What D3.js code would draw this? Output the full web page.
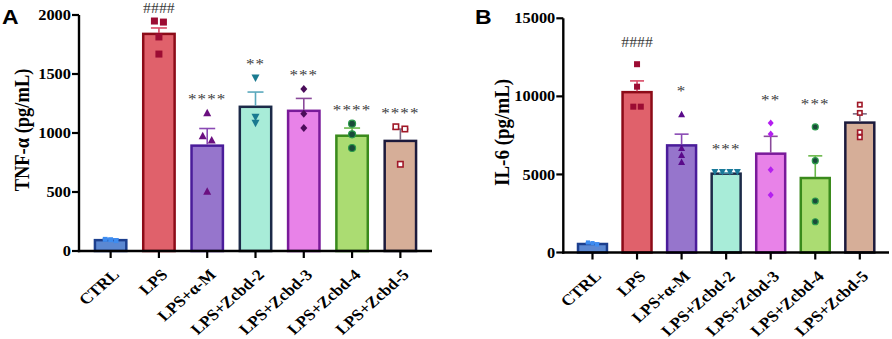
<!DOCTYPE html>
<html><head><meta charset="utf-8">
<script src="https://cdn.jsdelivr.net/npm/d3@7/dist/d3.min.js"></script>
<style>body{margin:0;background:#fff;} svg{display:block;}</style>
</head><body>
<svg id="chart" width="892" height="339"></svg>
<script>
const categories = ["CTRL","LPS","LPS+α-M","LPS+Zcbd-2","LPS+Zcbd-3","LPS+Zcbd-4","LPS+Zcbd-5"];

// Panel A: TNF-α
const tnfMeans = [92, 1840, 893, 1222, 1188, 977, 933];
const tnfSem   = [10, 50, 145, 125, 105, 65, 100];
const tnfPoints = [
  [88, 99, 96],
  [1940, 1949, 1814, 1669],
  [1172, 977, 941, 506],
  [1466, 1133, 1082],
  [1373, 1164, 1042],
  [1079, 989, 873],
  [1053, 1034, 735]
];
const tnfSig = ["", "####", "****", "**", "***", "****", "****"];
const tnfTicks = [0, 500, 1000, 1500, 2000];

// Panel B: IL-6
const il6Means = [545, 10270, 6860, 5050, 6330, 4770, 8320];
const il6Sem   = [60, 720, 720, 50, 1110, 1420, 560];
const il6Points = [
  [520, 640, 600],
  [12060, 10620, 9340, 9340],
  [8850, 6690, 6250, 5800],
  [5150, 5150, 5150, 5150],
  [8300, 7590, 5300, 3680],
  [8040, 5880, 3300, 1970],
  [9470, 8940, 7700, 7380]
];
const il6Sig = ["", "####", "*", "***", "**", "***", ""];
const il6Ticks = [0, 5000, 10000, 15000];

const fills   = ["#5b88d2", "#e0616b", "#9675cc", "#a8ecd8", "#e882e8", "#abdc72", "#d6ae98"];
const strokes = ["#1c3f8e", "#8c0b18", "#4a1c9a", "#1c2a48", "#7a1a9a", "#3a8a1c", "#1c1a3c"];
const errCols = ["#3d7be0", "#d84a66", "#8a4ab4", "#5aa8bc", "#8a4a9a", "#6ab84a", "#7a6a84"];
const shapes  = ["square", "square", "triangle", "triangleDown", "diamond", "circle", "openSquare"];
const ptColsA = ["#3d8cf0", "#9c0c33", "#6b0f80", "#1a7a90", "#4b0d5a", "#1a4a3a", "#a01828"];
const ptColsB = ["#3d8cf0", "#9c0c33", "#5a0a8a", "#1a7a9a", "#b41ef0", "#1a4a3a", "#a01828"];

const svg = d3.select("#chart");
const SX = 1.13; // horizontal text stretch of the original figure

function drawPanel(cfg) {
  const g = svg.append("g");
  const y = d3.scaleLinear().domain(cfg.domain).range([cfg.y0, cfg.y1]);
  const x = d3.scaleBand().domain(categories).range([cfg.x0, cfg.x1]).paddingInner(0.35).paddingOuter(0.33);
  const bw = x.bandwidth();

  categories.forEach((c, i) => {
    const cx = x(c);
    g.append("rect").attr("x", cx).attr("y", y(cfg.means[i])).attr("width", bw)
      .attr("height", y(0) - y(cfg.means[i]))
      .attr("fill", fills[i]).attr("stroke", strokes[i]).attr("stroke-width", 2.5);
    const xm = cx + bw / 2;
    const top = y(cfg.means[i] + cfg.sem[i]);
    g.append("line").attr("x1", xm).attr("x2", xm).attr("y1", y(cfg.means[i]) - 1).attr("y2", top)
      .attr("stroke", errCols[i]).attr("stroke-width", 1.6);
    g.append("line").attr("x1", xm - cfg.cap / 2).attr("x2", xm + cfg.cap / 2).attr("y1", top).attr("y2", top)
      .attr("stroke", errCols[i]).attr("stroke-width", 1.6);

    const ms = i === 0 ? cfg.ms * 0.7 : cfg.ms;
    const pts = cfg.points[i].map(v => ({v, py: y(v)})).sort((a, b) => a.py - b.py);
    const groups = [];
    pts.forEach(p => {
      const last = groups[groups.length - 1];
      if (last && Math.abs(p.py - last[last.length - 1].py) < cfg.thr) last.push(p);
      else groups.push([p]);
    });
    groups.forEach(gr => {
      const sp = i === 0 ? cfg.spread * 0.6 : cfg.spread;
      gr.forEach((p, k) => {
        const px = xm + (k - (gr.length - 1) / 2) * sp;
        drawMarker(g, shapes[i], px, p.py, ms, cfg.ptCols[i]);
      });
    });

    if (cfg.sig[i]) {
      const maxV = Math.max(d3.max(cfg.points[i]), cfg.means[i] + cfg.sem[i]);
      const isHash = cfg.sig[i].startsWith("#");
      g.append("text").attr("x", xm).attr("y", y(maxV) - cfg.sigOff + (isHash ? 2 : 1))
        .attr("text-anchor", "middle")
        .attr("transform", `translate(${xm},0) scale(${SX},1) translate(${-xm},0)`)
        .attr("font-family", "Liberation Serif, serif")
        .attr("font-size", isHash ? 14 : 15)
        .attr("letter-spacing", isHash ? 0 : 1)
        .attr("fill", "#3a3a3a").text(cfg.sig[i]);
    }
  });

  // y axis
  g.append("line").attr("x1", cfg.x0).attr("x2", cfg.x0).attr("y1", y(cfg.domain[1])).attr("y2", y(0) + 1.2)
    .attr("stroke", "#000").attr("stroke-width", 2.4);
  cfg.ticks.forEach(t => {
    g.append("line").attr("x1", cfg.x0 - 7).attr("x2", cfg.x0).attr("y1", y(t)).attr("y2", y(t))
      .attr("stroke", "#000").attr("stroke-width", 2.2);
    const tx = cfg.x0 - 8;
    g.append("text").attr("x", tx).attr("y", y(t)).attr("dy", "0.35em")
      .attr("text-anchor", "end")
      .attr("transform", `translate(${tx},0) scale(${SX},1) translate(${-tx},0)`)
      .attr("font-family", "Liberation Serif, serif").attr("font-weight", "bold")
      .attr("font-size", 14.5).attr("fill", "#000").text(t);
  });
  // x axis
  g.append("line").attr("x1", cfg.x0 - 1.2).attr("x2", cfg.x1).attr("y1", y(0)).attr("y2", y(0))
    .attr("stroke", "#000").attr("stroke-width", 2.4);
  categories.forEach(c => {
    const xm = x(c) + bw / 2;
    g.append("line").attr("x1", xm).attr("x2", xm).attr("y1", y(0)).attr("y2", y(0) + 7)
      .attr("stroke", "#000").attr("stroke-width", 2.2);
    g.append("text").attr("text-anchor", "end")
      .attr("transform", `translate(${xm + 1},${y(0) + 17}) scale(${SX},1) rotate(-45)`)
      .attr("dy", "0.7em")
      .attr("font-family", "Liberation Serif, serif").attr("font-weight", "bold")
      .attr("font-size", 15.5).attr("fill", "#000").text(c);
  });
  // y label
  const ly = (cfg.y0 + cfg.y1) / 2 + cfg.labelDy;
  g.append("text").attr("text-anchor", "middle")
    .attr("transform", `translate(${cfg.labelX},${ly}) scale(${SX},1) rotate(-90)`)
    .attr("font-family", "Liberation Serif, serif").attr("font-weight", "bold")
    .attr("font-size", cfg.labelSize).attr("fill", "#000").text(cfg.label);
  // panel letter
  g.append("text").attr("x", 0).attr("y", 0)
    .attr("transform", `translate(${cfg.letterX},24) scale(1.15,1)`)
    .attr("font-family", "Liberation Sans, Arial, sans-serif").attr("font-weight", "bold")
    .attr("font-size", 20).attr("fill", "#000").text(cfg.letter);
}

function drawMarker(g, shape, x, y, s, col) {
  const h = s / 2;
  if (shape === "square") {
    g.append("rect").attr("x", x - h).attr("y", y - h).attr("width", s).attr("height", s).attr("fill", col);
  } else if (shape === "openSquare") {
    g.append("rect").attr("x", x - h + 0.8).attr("y", y - h + 0.8).attr("width", s - 1.6).attr("height", s - 1.6)
      .attr("fill", "#fff").attr("stroke", col).attr("stroke-width", 1.6);
  } else if (shape === "triangle") {
    g.append("path").attr("d", `M${x},${y - h - 0.5}L${x + h + 0.5},${y + h}L${x - h - 0.5},${y + h}Z`).attr("fill", col);
  } else if (shape === "triangleDown") {
    g.append("path").attr("d", `M${x - h - 0.5},${y - h}L${x + h + 0.5},${y - h}L${x},${y + h + 0.5}Z`).attr("fill", col);
  } else if (shape === "diamond") {
    g.append("path").attr("d", `M${x},${y - h - 0.5}L${x + h},${y}L${x},${y + h + 0.5}L${x - h},${y}Z`).attr("fill", col);
  } else if (shape === "circle") {
    g.append("circle").attr("cx", x).attr("cy", y).attr("r", h).attr("fill", col)
      .attr("stroke", "#2a9a4a").attr("stroke-width", 1.2);
  }
}

drawPanel({
  domain: [0, 2000], y0: 251, y1: 15, x0: 79, x1: 432,
  means: tnfMeans, sem: tnfSem, points: tnfPoints, sig: tnfSig, ticks: tnfTicks,
  cap: 16, ms: 7, thr: 4.8, spread: 9, ptCols: ptColsA, sigOff: 10,
  label: "TNF-α (pg/mL)", labelSize: 18.5, labelX: 29, labelDy: -3, letter: "A", letterX: 2
});
drawPanel({
  domain: [0, 15000], y0: 252.5, y1: 18.3, x0: 563.3, x1: 889,
  means: il6Means, sem: il6Sem, points: il6Points, sig: il6Sig, ticks: il6Ticks,
  cap: 14, ms: 6, thr: 4.8, spread: 7.5, ptCols: ptColsB, sigOff: 19,
  label: "IL-6 (pg/mL)", labelSize: 19, labelX: 509, labelDy: -3, letter: "B", letterX: 475
});
</script>
</body></html>
